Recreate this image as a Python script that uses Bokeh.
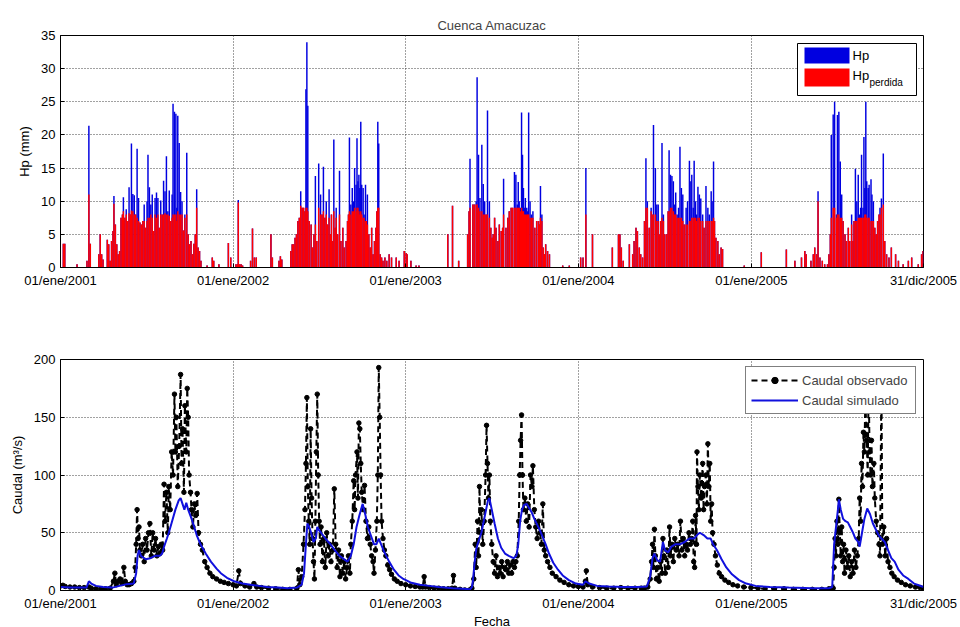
from bokeh.plotting import figure
from bokeh.models import (Range1d, FixedTicker, Legend, LegendItem, Label,
                          BoxAnnotation, ColumnDataSource)
from bokeh.layouts import column
from bokeh.embed import file_html
from bokeh.resources import INLINE

# ---------------- data (day index counted from 01/ene/2001) ----------------
tick_days = [0, 365, 730, 1095, 1461, 1825]
tick_labels = ["01/ene/2001", "01/ene/2002", "01/ene/2003",
               "01/ene/2004", "01/ene/2005", "31/dic/2005"]
hp_ticks = [0, 5, 10, 15, 20, 25, 30, 35]
q_ticks = [0, 50, 100, 150, 200]

# precipitation: day, total Hp (mm), lost Hp (mm)
rain_day_2001 = [6, 9, 35, 56, 60, 63, 81, 84, 87, 90, 99, 102, 105, 108, 111, 113, 116, 119, 122, 125,
                 128, 131, 133, 136, 139, 142, 145, 148, 150, 153, 156, 159, 162, 165, 168, 171, 174, 177,
                 180, 183, 185, 188, 191, 194, 197, 200, 203, 206, 209, 212, 215, 218, 221, 224, 227, 230,
                 233, 236, 238, 241, 244, 246, 248, 251, 254, 257, 260, 263, 267, 270, 273, 276, 279, 282,
                 285, 288, 291, 294, 297, 310, 321, 324, 335, 355, 360]
hp_2001 = [3.6, 3.6, 0.5, 1.0, 21.4, 3.6, 2.0, 5.0, 2.0, 1.2, 4.2, 3.5, 1.0, 4.0, 5.5, 10.8, 6.5, 3.5, 2.0, 2.5,
           7.5, 8.0, 10.6, 7.5, 8.8, 7.0, 12.1, 8.0, 18.7, 11.1, 10.9, 8.0, 17.9, 10.5, 6.8, 6.5, 7.0, 9.5,
           6.0, 10.0, 17.0, 12.1, 9.5, 11.0, 5.5, 10.5, 11.3, 10.5, 6.0, 10.1, 8.0, 13.1, 11.5, 16.8, 8.5, 11.6,
           7.0, 11.0, 24.7, 23.5, 23.2, 9.0, 22.9, 18.8, 11.4, 10.0, 5.6, 8.0, 17.3, 5.0, 3.5, 4.0, 2.0, 3.6,
           5.0, 11.8, 3.0, 2.5, 1.0, 0.3, 1.5, 1.0, 0.5, 3.7, 1.5]
loss_2001 = [3.6, 3.6, 0.5, 1.0, 11.0, 3.6, 2.0, 5.0, 2.0, 1.2, 4.2, 3.5, 1.0, 4.0, 5.5, 9.6, 6.5, 3.5, 2.0, 2.5,
             7.5, 8.0, 8.5, 7.5, 8.0, 7.0, 8.2, 8.0, 8.6, 8.5, 8.0, 8.0, 7.5, 7.0, 6.8, 6.5, 7.0, 7.0,
             6.0, 7.0, 7.5, 7.5, 8.0, 7.5, 5.5, 8.0, 7.5, 8.0, 6.0, 8.0, 8.0, 8.0, 8.2, 8.0, 8.0, 7.8,
             7.0, 7.5, 8.0, 8.0, 8.0, 7.0, 8.5, 8.0, 8.0, 8.0, 5.6, 7.5, 8.0, 5.0, 3.5, 4.0, 2.0, 3.6,
             5.0, 9.0, 3.0, 2.5, 1.0, 0.3, 1.5, 1.0, 0.5, 3.7, 1.5]

rain_day_2002 = [371, 374, 376, 379, 382, 385, 402, 406, 410, 414, 445, 448, 462, 465, 468, 487, 490, 493, 496,
                 499, 502, 505, 508, 511, 514, 517, 519, 521, 523, 526, 530, 533, 536, 539, 542, 546, 550,
                 553, 556, 559, 562, 565, 568, 571, 573, 576, 578, 581, 583, 586, 590, 593, 597, 600, 604,
                 607, 609, 611, 614, 617, 620, 622, 625, 627, 629, 631, 633, 635, 637, 640, 642, 645, 647,
                 649, 652, 655, 658, 661, 664, 667, 669, 671, 673, 676, 679, 682, 686, 690, 695, 700, 710,
                 716, 727]
hp_2002 = [0.5, 0.5, 10.2, 0.5, 0.5, 0.3, 1.0, 5.9, 1.5, 1.5, 5.0, 1.5, 1.0, 1.7, 1.2, 2.5, 3.5, 3.5, 4.5,
           5.0, 7.0, 7.5, 11.5, 9.0, 9.0, 8.5, 26.9, 34.0, 24.4, 7.0, 6.5, 3.0, 5.0, 13.8, 4.0, 15.7, 11.0,
           8.0, 15.2, 7.5, 10.0, 6.5, 11.8, 5.0, 8.0, 4.0, 19.3, 6.0, 9.0, 5.0, 14.6, 4.0, 6.0, 3.0, 4.0,
           7.0, 8.0, 19.6, 9.5, 12.0, 10.0, 15.0, 12.5, 19.5, 13.0, 14.0, 12.0, 22.0, 12.5, 12.0, 8.0, 12.5, 7.0,
           11.0, 5.0, 3.0, 6.0, 2.0, 4.0, 6.0, 8.5, 22.0, 18.7, 2.0, 1.5, 1.0, 1.5, 1.0, 2.0, 1.5, 1.5,
           1.0, 2.5]
loss_2002 = [0.5, 0.5, 9.8, 0.5, 0.5, 0.3, 1.0, 5.9, 1.5, 1.5, 5.0, 1.5, 1.0, 1.7, 1.2, 2.5, 3.5, 3.5, 4.5,
             5.0, 7.0, 7.5, 9.3, 9.0, 9.0, 8.5, 9.0, 9.0, 8.5, 7.0, 6.5, 3.0, 5.0, 6.5, 4.0, 9.0, 8.0,
             8.0, 8.5, 7.5, 8.0, 6.5, 7.5, 5.0, 8.0, 4.0, 8.5, 6.0, 7.5, 5.0, 8.0, 4.0, 6.0, 3.0, 4.0,
             7.0, 8.0, 8.5, 8.0, 8.5, 8.5, 9.0, 8.5, 9.0, 9.0, 8.5, 8.0, 8.5, 8.0, 7.5, 7.5, 7.0, 7.0,
             6.5, 5.0, 3.0, 6.0, 2.0, 4.0, 6.0, 8.5, 9.0, 9.0, 2.0, 1.5, 1.0, 1.5, 1.0, 2.0, 1.5, 1.5,
             1.0, 2.5]

rain_day_2003 = [731, 733, 741, 752, 758, 819, 829, 842, 861, 864, 866, 872, 875, 879, 881, 884, 887, 891, 894,
                 897, 900, 903, 907, 910, 913, 915, 918, 921, 925, 928, 932, 935, 937, 942, 946, 949, 953,
                 956, 960, 963, 966, 968, 970, 973, 975, 977, 979, 981, 983, 986, 988, 990, 993, 996, 999,
                 1003, 1007, 1011, 1013, 1015, 1018, 1021, 1024, 1026, 1030, 1034, 1062, 1076]
hp_2003 = [2.2, 2.0, 1.0, 0.3, 0.3, 5.0, 9.3, 1.0, 5.0, 8.5, 16.4, 9.5, 9.5, 10.0, 28.7, 17.0, 10.5, 18.5, 12.6,
           10.0, 8.0, 23.7, 10.0, 6.0, 4.5, 5.0, 7.5, 6.0, 4.0, 6.5, 5.5, 6.0, 13.4, 6.0, 7.5, 8.5, 9.0,
           9.0, 14.4, 14.0, 9.5, 12.9, 10.0, 9.0, 23.4, 17.0, 12.0, 9.0, 10.5, 9.0, 8.5, 23.4, 10.0, 8.0, 8.5,
           6.0, 7.0, 7.0, 6.5, 12.3, 8.0, 3.0, 2.0, 3.5, 2.5, 2.0, 0.3, 0.3]
loss_2003 = [2.2, 2.0, 1.0, 0.3, 0.3, 5.0, 9.3, 1.0, 5.0, 8.5, 9.0, 9.5, 9.5, 9.5, 9.5, 9.0, 8.5, 8.5, 8.0,
             8.0, 8.0, 8.0, 7.5, 6.0, 4.5, 5.0, 7.5, 6.0, 4.0, 6.5, 5.5, 6.0, 8.0, 6.0, 7.5, 8.5, 9.0,
             9.0, 9.0, 9.0, 9.0, 9.0, 9.0, 8.5, 9.0, 8.5, 8.5, 8.0, 8.0, 8.0, 8.0, 8.0, 7.5, 7.5, 7.5,
             6.0, 7.0, 7.0, 6.5, 7.5, 7.0, 3.0, 2.0, 3.5, 2.5, 2.0, 0.3, 0.3]

rain_day_2004 = [1100, 1105, 1111, 1125, 1167, 1180, 1183, 1186, 1190, 1203, 1210, 1213, 1217, 1220, 1224, 1227,
                 1231, 1235, 1238, 1241, 1245, 1249, 1251, 1254, 1258, 1261, 1264, 1266, 1269, 1272, 1275,
                 1278, 1282, 1285, 1287, 1290, 1293, 1296, 1299, 1301, 1304, 1307, 1310, 1313, 1316, 1319,
                 1323, 1326, 1330, 1333, 1335, 1338, 1340, 1343, 1345, 1348, 1351, 1354, 1358, 1361, 1365,
                 1369, 1372, 1376, 1378, 1381, 1383, 1386, 1390, 1393, 1397, 1400, 1446]
hp_2004 = [1.5, 1.5, 15.0, 5.0, 3.0, 5.0, 5.0, 3.0, 1.0, 3.5, 2.0, 4.0, 6.0, 5.5, 3.0, 2.0,
           1.5, 7.0, 16.5, 10.0, 6.0, 9.0, 8.0, 21.5, 15.0, 9.5, 9.5, 5.0, 7.0, 18.8, 8.0,
           5.0, 5.0, 8.5, 17.7, 14.0, 13.8, 13.0, 9.5, 11.3, 8.0, 9.0, 18.2, 12.0, 11.0, 6.5,
           9.0, 10.0, 16.1, 13.0, 14.0, 9.0, 16.1, 10.0, 8.0, 12.2, 11.0, 10.4, 8.0, 6.0, 12.3,
           9.0, 8.0, 11.5, 10.0, 16.0, 7.0, 4.5, 4.0, 2.0, 3.0, 2.8, 0.3]
loss_2004 = [1.5, 1.5, 8.0, 5.0, 3.0, 5.0, 5.0, 3.0, 1.0, 3.5, 2.0, 4.0, 6.0, 5.5, 3.0, 2.0,
             1.5, 7.0, 9.0, 9.0, 6.0, 8.5, 8.0, 8.0, 8.0, 7.0, 7.0, 5.0, 7.0, 7.5, 7.0,
             5.0, 5.0, 8.5, 8.5, 9.0, 9.0, 8.5, 8.0, 8.0, 7.5, 7.5, 7.5, 7.5, 7.0, 6.5,
             6.5, 6.5, 7.0, 7.0, 7.5, 7.5, 7.5, 7.5, 7.0, 7.5, 7.5, 7.0, 7.0, 6.0, 7.0,
             7.0, 7.0, 7.0, 7.0, 7.5, 7.0, 4.5, 4.0, 2.0, 3.0, 2.8, 0.3]

rain_day_2005 = [1482, 1535, 1553, 1567, 1574, 1577, 1587, 1592, 1595, 1599, 1602, 1606, 1611, 1616, 1622, 1625,
                 1628, 1630, 1634, 1637, 1641, 1643, 1646, 1649, 1652, 1655, 1659, 1662, 1666, 1669, 1673,
                 1676, 1678, 1681, 1684, 1687, 1690, 1692, 1694, 1697, 1699, 1701, 1703, 1705, 1708, 1710,
                 1714, 1716, 1719, 1722, 1725, 1728, 1731, 1733, 1736, 1740, 1743, 1747, 1752, 1757, 1766,
                 1772, 1782, 1793, 1800, 1814, 1821, 1824]
hp_2005 = [2.3, 2.7, 1.0, 1.5, 2.5, 2.0, 1.0, 2.0, 3.0, 2.0, 11.5, 1.5, 1.0, 0.5, 0.5, 2.0,
           5.0, 20.0, 23.1, 25.0, 8.0, 23.0, 23.5, 16.0, 11.0, 7.0, 5.0, 4.0, 6.0, 4.0, 8.0,
           4.0, 7.0, 14.9, 10.0, 14.0, 8.0, 9.0, 17.0, 9.0, 19.7, 12.0, 25.0, 13.0, 12.0, 12.5,
           13.3, 11.0, 10.0, 6.0, 5.0, 7.0, 8.0, 9.0, 10.4, 17.2, 4.0, 2.0, 1.5, 3.0, 2.0,
           1.0, 0.5, 1.0, 1.5, 0.5, 2.0, 2.5]
loss_2005 = [2.3, 2.7, 1.0, 1.5, 2.5, 2.0, 1.0, 2.0, 3.0, 2.0, 10.0, 1.5, 1.0, 0.5, 0.5, 2.0,
             5.0, 7.5, 9.0, 9.0, 7.5, 8.0, 8.0, 7.5, 7.5, 7.0, 5.0, 4.0, 6.0, 4.0, 6.5,
             4.0, 7.0, 7.0, 7.0, 7.5, 7.5, 7.5, 7.5, 7.5, 7.5, 8.0, 8.0, 7.5, 7.5, 7.5,
             7.0, 7.0, 7.0, 6.0, 5.0, 7.0, 8.0, 8.0, 9.0, 9.5, 4.0, 2.0, 1.5, 3.0, 2.0,
             1.0, 0.5, 1.0, 1.5, 0.5, 2.0, 2.5]

# discharge, observed (m3/s)
obs_day = [0, 5, 10, 20, 30, 40, 50, 60, 65, 75, 85, 95, 105, 112, 115, 118, 122, 126, 130, 134, 137, 141, 145,
           150, 155, 158, 160, 162, 164, 166, 168, 171, 174, 177, 180, 183, 186, 189, 192, 195, 198, 201, 204,
           207, 210, 213, 216, 219, 221, 224, 227, 229, 232, 235, 238, 241, 243, 245, 248, 251, 254, 256, 258,
           261, 263, 266, 268, 270, 272, 275, 277, 280, 283, 286, 289, 292, 296, 300, 305, 310, 316, 322, 330,
           338, 346, 355, 365, 372, 377, 381, 390, 400, 409, 415, 425, 440, 455, 470, 485, 500, 503, 506, 510,
           514, 517, 519, 521, 523, 525, 527, 529, 531, 533, 535, 537, 539, 541, 543, 545, 547, 549, 551, 554,
           557, 560, 563, 566, 569, 572, 576, 579, 582, 585, 588, 591, 594, 597, 600, 603, 606, 609, 612, 614,
           617, 620, 622, 624, 627, 629, 631, 633, 635, 637, 640, 643, 646, 649, 652, 655, 658, 661, 663, 666,
           669, 671, 673, 675, 677, 679, 682, 685, 688, 692, 696, 700, 706, 712, 720, 730, 740, 750, 760, 766,
           769, 772, 780, 790, 800, 810, 820, 828, 831, 834, 845, 855, 865, 870, 874, 877, 879, 882, 884, 886,
           888, 890, 893, 896, 899, 901, 903, 905, 907, 909, 912, 915, 918, 921, 924, 927, 930, 933, 936, 939,
           942, 945, 948, 951, 954, 957, 960, 963, 966, 969, 971, 973, 975, 977, 979, 982, 985, 988, 991, 994,
           997, 999, 1002, 1005, 1008, 1011, 1014, 1017, 1020, 1023, 1026, 1030, 1035, 1040, 1048, 1056, 1065,
           1075, 1085, 1095, 1105, 1110, 1112, 1115, 1125, 1140, 1155, 1170, 1185, 1200, 1215, 1228, 1235, 1242,
           1247, 1250, 1252, 1254, 1256, 1258, 1260, 1263, 1266, 1269, 1272, 1274, 1276, 1279, 1282, 1285, 1288,
           1290, 1293, 1296, 1299, 1302, 1305, 1308, 1311, 1314, 1317, 1320, 1323, 1326, 1329, 1332, 1335, 1337,
           1339, 1341, 1343, 1345, 1346, 1348, 1350, 1352, 1355, 1358, 1360, 1362, 1365, 1367, 1369, 1371, 1373,
           1375, 1377, 1379, 1382, 1385, 1389, 1393, 1398, 1405, 1413, 1422, 1432, 1445, 1460, 1475, 1490, 1510,
           1530, 1550, 1570, 1590, 1610, 1625, 1632, 1634, 1636, 1638, 1640, 1642, 1644, 1646, 1648, 1650, 1652,
           1654, 1656, 1658, 1661, 1664, 1667, 1670, 1673, 1676, 1679, 1682, 1685, 1688, 1690, 1692, 1694, 1696,
           1698, 1700, 1702, 1705, 1707, 1709, 1711, 1713, 1715, 1717, 1720, 1722, 1725, 1728, 1731, 1733, 1736,
           1738, 1741, 1744, 1747, 1750, 1754, 1758, 1763, 1770, 1778, 1787, 1797, 1808, 1818, 1825]
obs_q = [4, 4.5, 3.5, 3, 3, 2.5, 2.5, 3, 2, 1.5, 1.5, 1.5, 2, 8, 15, 5, 8, 10, 6, 20, 8, 5, 5,
         6, 8, 20, 40, 70, 45, 55, 35, 30, 40, 25, 45, 35, 50, 58, 30, 50, 35, 45, 30,
         38, 32, 40, 35, 92, 60, 85, 50, 90, 70, 120, 100, 170, 120, 150, 90, 125, 187, 110, 140,
         85, 160, 120, 175, 150, 100, 85, 70, 55, 75, 65, 84, 50, 40, 35, 25, 20, 15, 12, 10,
         8, 7, 6, 5, 4, 17, 6, 4, 3, 6, 3, 2.5, 2, 1.5, 1, 1, 2, 18, 5, 12,
         40, 70, 110, 167, 90, 60, 40, 140, 80, 45, 25, 10, 60, 120, 170, 100, 60, 40, 55, 25,
         45, 20, 50, 30, 40, 25, 35, 88, 40, 20, 35, 12, 30, 15, 25, 10, 20, 30, 15, 40,
         60, 95, 70, 100, 120, 80, 145, 140, 110, 85, 70, 91, 60, 45, 55, 40, 30, 25, 15, 35,
         60, 100, 193, 150, 100, 60, 45, 35, 30, 22, 18, 14, 10, 8, 6, 5, 4, 3.5, 3, 3,
         12, 3, 2.5, 2, 2, 1.5, 1.5, 2, 13, 2, 1, 0.5, 0.5, 2, 10, 40, 20, 60, 30, 90,
         50, 70, 40, 60, 100, 143, 110, 80, 100, 60, 40, 25, 15, 30, 12, 20, 15, 25, 12, 20,
         18, 25, 15, 22, 15, 25, 20, 25, 30, 60, 100, 130, 152, 100, 70, 80, 60, 75, 55, 100,
         90, 108, 70, 55, 45, 60, 50, 40, 75, 35, 30, 25, 20, 15, 12, 9, 7,
         5, 4, 3.5, 3, 8, 17, 5, 3, 2.5, 2, 2, 2.5, 2, 2, 2, 2, 3,
         10, 25, 40, 20, 53, 30, 10, 20, 8, 25, 15, 45, 30, 15, 35, 20, 55,
         30, 40, 25, 45, 35, 40, 30, 60, 35, 45, 30, 40, 35, 50, 40, 45, 60,
         25, 20, 65, 40, 120, 90, 70, 100, 80, 110, 70, 90, 100, 75, 127, 90, 110,
         60, 75, 50, 40, 30, 22, 15, 12, 9, 7, 5, 4, 3, 2.5, 2, 1.5, 1.5,
         1.5, 1, 1, 1, 1, 1.5, 2, 2, 20, 45, 30, 60, 40, 79, 50, 30, 55,
         25, 40, 15, 35, 20, 30, 12, 25, 15, 35, 20, 30, 45, 80, 60, 110, 90,
         137, 120, 165, 130, 100, 180, 120, 100, 130, 90, 110, 80, 60, 50, 40, 30, 185,
         40, 55, 30, 45, 25, 20, 15, 12, 9, 7, 5, 4, 3, 2.5, 2]

# discharge, simulated (m3/s)
sim_day = [0, 20, 55, 60, 65, 75, 90, 110, 125, 140, 155, 160, 163, 166, 170, 180, 190, 200, 210, 215, 219,
           225, 229, 236, 243, 250, 254, 258, 262, 266, 270, 279, 288, 296, 307, 318, 330, 339, 352, 367,
           385, 402, 420, 438, 460, 480, 500, 510, 515, 519, 522, 526, 530, 535, 540, 543, 547, 551, 560,
           571, 580, 590, 600, 607, 614, 620, 626, 632, 639, 645, 650, 656, 663, 668, 673, 678, 685, 695,
           705, 715, 725, 740, 760, 780, 800, 830, 850, 866, 870, 872, 876, 879, 882, 886, 890, 895, 900,
           904, 907, 912, 918, 925, 932, 940, 948, 958, 964, 968, 972, 976, 980, 986, 990, 996, 1002, 1008,
           1014, 1020, 1026, 1033, 1042, 1052, 1062, 1075, 1090, 1105, 1110, 1118, 1135, 1160, 1190, 1220,
           1240, 1247, 1252, 1256, 1262, 1268, 1274, 1278, 1285, 1292, 1300, 1310, 1320, 1330, 1340, 1346,
           1352, 1360, 1368, 1375, 1380, 1388, 1398, 1408, 1420, 1435, 1450, 1470, 1500, 1540, 1590, 1625,
           1632, 1636, 1640, 1644, 1646, 1650, 1655, 1660, 1665, 1670, 1676, 1681, 1687, 1690, 1695, 1700,
           1706, 1712, 1718, 1724, 1730, 1736, 1743, 1750, 1757, 1764, 1772, 1782, 1793, 1805, 1815, 1825]
sim_q = [3, 2.5, 2.5, 8, 6, 4, 3, 2.5, 4, 5.5, 6, 15, 30, 35, 30, 27, 28, 30, 30, 32, 38,
         45, 50, 60, 70, 78, 80, 75, 70, 76, 70, 60, 48, 40, 32, 25, 19, 15, 11, 8,
         6, 5, 4, 3, 2.5, 2, 2.5, 5, 15, 40, 58, 55, 50, 42, 45, 55, 52, 50, 45,
         40, 35, 30, 27, 25, 30, 40, 55, 65, 75, 65, 55, 48, 40, 40, 45, 40, 33, 25,
         18, 13, 10, 7, 5, 4, 3, 2, 1.5, 1, 3, 8, 25, 35, 40, 45, 50, 60, 70,
         78, 80, 70, 58, 45, 37, 32, 30, 28, 30, 40, 60, 70, 74, 75, 72, 68, 62, 57,
         52, 46, 40, 32, 24, 18, 13, 9, 6, 5, 8, 6, 4, 3.5, 3, 3,
         3.5, 12, 28, 32, 26, 25, 42, 35, 33, 38, 40, 40, 42, 45, 45, 48,
         50, 48, 45, 45, 40, 35, 27, 20, 14, 9, 6, 4, 3, 2.5, 2, 2,
         3, 40, 55, 70, 79, 70, 62, 60, 59, 55, 50, 45, 42, 38, 50, 62,
         71, 66, 58, 53, 48, 45, 42, 35, 28, 25, 18, 13, 10, 6, 4.5, 3]

rain_day = rain_day_2001 + rain_day_2002 + rain_day_2003 + rain_day_2004 + rain_day_2005
hp_total = hp_2001 + hp_2002 + hp_2003 + hp_2004 + hp_2005
hp_loss = loss_2001 + loss_2002 + loss_2003 + loss_2004 + loss_2005

# ---------------- layout constants ----------------
FONT = "Liberation Sans"
FRAME_W, FRAME_H1, FRAME_H2 = 863, 232, 231
X0, X1 = tick_days[0], tick_days[-1]
HP_MAX, Q_MAX = hp_ticks[-1], q_ticks[-1]


def style(p):
    p.outline_line_color = "black"
    p.outline_line_width = 1
    p.background_fill_color = "white"
    p.border_fill_color = "white"
    for ax in (p.xaxis[0], p.yaxis[0]):
        ax.axis_line_color = "black"
        ax.major_tick_in = 4
        ax.major_tick_out = 0
        ax.minor_tick_line_color = None
        ax.major_label_text_font = FONT
        ax.major_label_text_font_size = "13px"
        ax.major_label_text_color = "black"
        ax.axis_label_text_font = FONT
        ax.axis_label_text_font_size = "13px"
        ax.axis_label_text_font_style = "normal"
        ax.axis_label_text_color = "black"
    p.xaxis.ticker = FixedTicker(ticks=tick_days)
    p.xaxis.major_label_overrides = dict(zip(tick_days, tick_labels))
    p.xaxis.major_label_standoff = 5
    p.yaxis.major_label_standoff = 5
    p.yaxis.axis_label_standoff = 6
    for g in (p.xgrid[0], p.ygrid[0]):
        g.grid_line_color = "#303030"
        g.grid_line_dash = "1 2"
        g.grid_line_width = 1
        g.grid_line_alpha = 0.9


# ---------------- top: precipitation ----------------
p1 = figure(frame_width=FRAME_W, frame_height=FRAME_H1, min_border_left=60, min_border_right=35,
            min_border_top=35, min_border_bottom=40,
            x_range=Range1d(X0, X1), y_range=Range1d(0, HP_MAX),
            output_backend="svg", toolbar_location=None, title="Cuenca Amacuzac")
style(p1)
p1.yaxis.ticker = FixedTicker(ticks=hp_ticks)
p1.yaxis.axis_label = "Hp (mm)"
p1.title.align = "center"
p1.title.text_font = FONT
p1.title.text_font_size = "13px"
p1.title.text_font_style = "normal"
p1.title.standoff = 6

rain_src = ColumnDataSource(dict(day=rain_day, hp=hp_total, loss=hp_loss))
r_hp = p1.vbar(x="day", top="hp", width=3.1, source=rain_src,
               fill_color="#0000e0", line_color=None)
r_loss = p1.vbar(x="day", top="loss", width=3.1, source=rain_src,
                 fill_color="#ff0000", line_color=None)


# legend of the top panel, drawn as annotations so that the label can carry a subscript;
# positions are given in frame pixels (from the frame's top-left corner) and mapped to data units
def fx(px):
    return X0 + px / FRAME_W * (X1 - X0)


def fy(py):
    return HP_MAX - py / FRAME_H1 * HP_MAX


def box(l, r, t, b, color, line=None):
    return BoxAnnotation(left=fx(l), right=fx(r), top=fy(t), bottom=fy(b),
                         fill_color=color, fill_alpha=1,
                         line_color=line, line_width=1, line_alpha=1 if line else 0)


def text(px, py, s, size):
    return Label(x=fx(px), y=fy(py), text=s, text_font=FONT, text_font_size=size,
                 text_baseline="middle", text_align="left", text_color="black")


p1.add_layout(box(737, 856, 8, 60, "white", "black"))
p1.add_layout(box(744, 789, 12, 28, "#0000e0"))
p1.add_layout(box(744, 789, 33, 51, "#ff0000"))
p1.add_layout(text(792, 20, "Hp", "13px"))
p1.add_layout(text(792, 40, "Hp", "13px"))
p1.add_layout(text(809, 47, "perdida", "10px"))

# ---------------- bottom: discharge ----------------
p2 = figure(frame_width=FRAME_W, frame_height=FRAME_H2, min_border_left=60, min_border_right=35,
            min_border_top=52, min_border_bottom=36,
            x_range=Range1d(X0, X1), y_range=Range1d(0, Q_MAX),
            output_backend="svg", toolbar_location=None)
style(p2)
p2.yaxis.ticker = FixedTicker(ticks=q_ticks)
p2.yaxis.axis_label = "Caudal (m³/s)"
p2.xaxis.axis_label = "Fecha"
p2.xaxis.axis_label_standoff = 0

obs_src = ColumnDataSource(dict(day=obs_day, q=obs_q))
sim_src = ColumnDataSource(dict(day=sim_day, q=sim_q))
r_obs_line = p2.line(x="day", y="q", source=obs_src, line_color="black",
                     line_width=2, line_dash="6 4")
r_obs_pts = p2.scatter(x="day", y="q", source=obs_src, marker="circle", size=4.5,
                       fill_color="black", line_color="black")
r_sim = p2.line(x="day", y="q", source=sim_src, line_color="#1010dd", line_width=2)

leg2 = Legend(items=[LegendItem(label="Caudal observado", renderers=[r_obs_line, r_obs_pts]),
                     LegendItem(label="Caudal simulado", renderers=[r_sim])],
              location="top_right", margin=7, padding=5, spacing=4,
              glyph_width=47, glyph_height=16, label_width=108, label_standoff=4,
              label_text_font=FONT, label_text_font_size="13px",
              border_line_color="black", border_line_width=1,
              background_fill_color="white", background_fill_alpha=1)
p2.add_layout(leg2)

layout = column(p1, p2, spacing=0)
open("out.html", "w").write(file_html(layout, INLINE))
